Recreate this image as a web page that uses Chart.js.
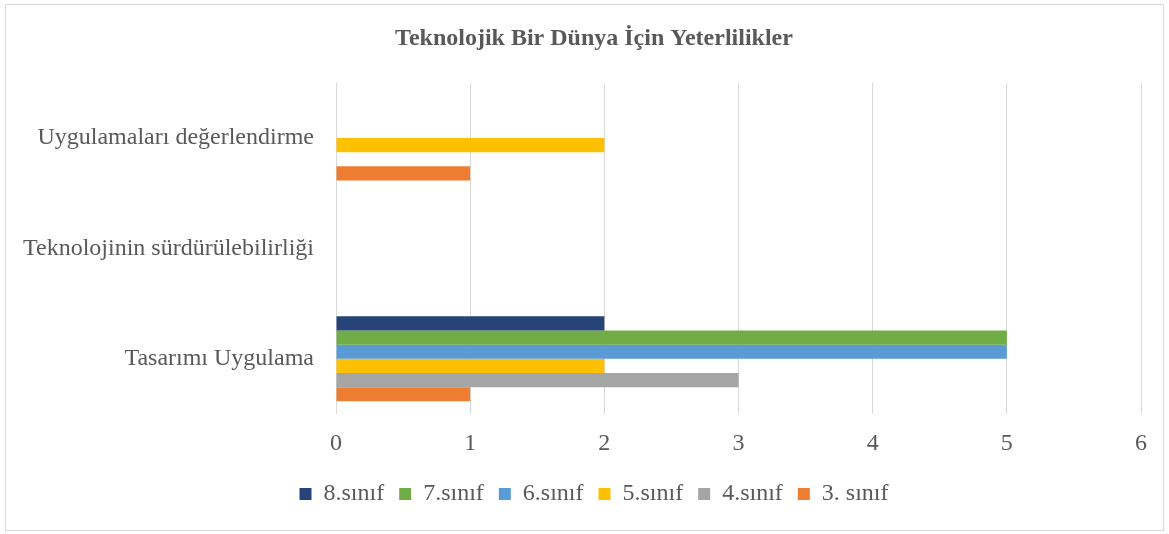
<!DOCTYPE html>
<html>
<head>
<meta charset="utf-8">
<script src="https://cdn.jsdelivr.net/npm/chart.js@4/dist/chart.umd.min.js"></script>
<style>
  html, body { margin: 0; padding: 0; background: #fff; }
  #wrap { position: relative; width: 1169px; height: 534px; }
  #frame { position: absolute; left: 5px; top: 4px; width: 1157px; height: 525px; border: 1px solid #d9d9d9; }
  canvas { position: absolute; left: 0; top: 0; }
</style>
</head>
<body>
<div id="wrap">
  <div id="frame"></div>
  <canvas id="chart" width="1169" height="534"></canvas>
</div>
<script>
// Categories (top to bottom)
const categories = ['Uygulamaları değerlendirme', 'Teknolojinin sürdürülebilirliği', 'Tasarımı Uygulama'];

// Series values, same order as categories
const sinif8 = [0, 0, 2];
const sinif7 = [0, 0, 5];
const sinif6 = [0, 0, 5];
const sinif5 = [2, 0, 2];
const sinif4 = [0, 0, 3];
const sinif3 = [1, 0, 1];

const textColor = '#595959';
const fontFamily = '"Liberation Serif", "Times New Roman", serif';

const chart = new Chart(
  document.getElementById('chart').getContext('2d'),
  {
    type: 'bar',
    data: {
      labels: categories,
      datasets: [
        { label: '8.sınıf', data: sinif8, backgroundColor: '#264478' },
        { label: '7.sınıf', data: sinif7, backgroundColor: '#70AD47' },
        { label: '6.sınıf', data: sinif6, backgroundColor: '#5B9BD5' },
        { label: '5.sınıf', data: sinif5, backgroundColor: '#FFC000' },
        { label: '4.sınıf', data: sinif4, backgroundColor: '#A5A5A5' },
        { label: '3. sınıf', data: sinif3, backgroundColor: '#ED7D31' }
      ]
    },
    options: {
      indexAxis: 'y',
      responsive: false,
      animation: false,
      categoryPercentage: 0.77,
      barPercentage: 1,
      layout: { padding: { left: 19, right: 0, top: 1, bottom: 18 } },
      plugins: {
        title: {
          display: true,
          text: 'Teknolojik Bir Dünya İçin Yeterlilikler',
          color: textColor,
          font: { family: fontFamily, size: 24, weight: 'bold' },
          padding: { top: 23, bottom: 30 }
        },
        legend: {
          position: 'bottom',
          labels: {
            color: textColor,
            font: { family: fontFamily, size: 24 },
            boxWidth: 12,
            boxHeight: 12,
            padding: 15
          }
        },
        tooltip: { enabled: false }
      },
      scales: {
        x: {
          min: 0,
          max: 6,
          ticks: {
            stepSize: 1,
            color: textColor,
            font: { family: fontFamily, size: 24 },
            padding: 15
          },
          grid: { color: '#d9d9d9', drawTicks: false },
          border: { display: false },
          afterFit: function(axis) { axis.height = 53; }
        },
        y: {
          ticks: {
            color: textColor,
            font: { family: fontFamily, size: 24 },
            padding: 14
          },
          grid: { display: false },
          border: { display: false },
          afterFit: function(axis) { axis.width = 317; }
        },
        // empty right-hand spacer so the plot ends where the reference does
        yRight: {
          type: 'category',
          position: 'right',
          display: true,
          ticks: { display: false },
          grid: { display: false },
          border: { display: false },
          afterFit: function(axis) { axis.width = 28; }
        }
      }
    }
  }
);
</script>
</body>
</html>
